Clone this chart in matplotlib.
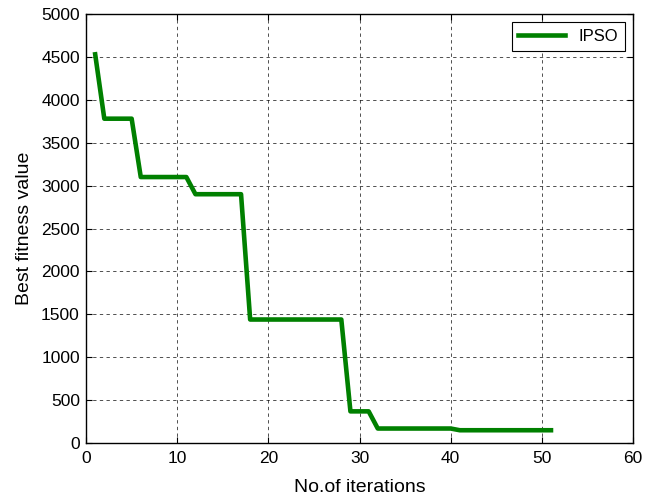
import matplotlib
matplotlib.use("Agg")
import matplotlib.pyplot as plt

plt.rcParams['font.family'] = ['Liberation Sans', 'DejaVu Sans']

# best fitness per iteration
iterations = list(range(1, 52))
fitness = ([4530] + [3780] * 4 + [3100] * 6 + [2900] * 6 + [1440] * 11
           + [370] * 3 + [170] * 9 + [150] * 11)

fig = plt.figure(figsize=(6.57, 4.99), dpi=100)
ax = fig.add_axes([0.131, 0.112, 0.8325, 0.86])

ax.plot(iterations, fitness, color=(0, 0.5, 0), linewidth=3.3, label='IPSO')

ax.set_xlim(0, 60)
ax.set_ylim(0, 5000)
ax.set_xticks(range(0, 61, 10))
ax.set_yticks(range(0, 5001, 500))
ax.grid(True, color='black', linestyle=(0, (4, 4)), linewidth=0.6, alpha=0.8)
ax.tick_params(direction='in', top=True, right=True, labelsize=12.5, length=4)
ax.tick_params(axis='x', pad=6)
ax.tick_params(axis='y', pad=4.5)
for s in ax.spines.values():
    s.set_linewidth(1.0)

ax.set_xlabel('No.of iterations', fontsize=14, labelpad=9)
ax.set_ylabel('Best fitness value', fontsize=14, labelpad=6)

leg = ax.legend(loc='upper right', fontsize=12, fancybox=False, framealpha=1,
                edgecolor='black', handlelength=2.8, borderaxespad=0.5)
leg.get_frame().set_linewidth(0.8)

fig.savefig('out.png', dpi=100)
